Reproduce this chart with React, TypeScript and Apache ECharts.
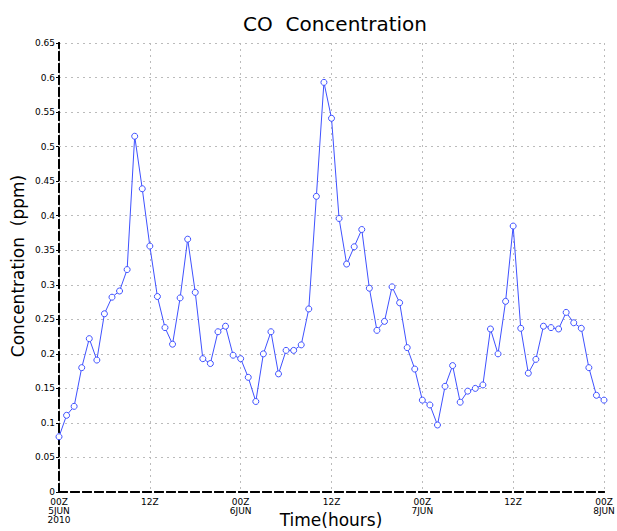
import React, { useEffect, useRef } from "react";
import * as echarts from "echarts";

const hours: number[] = Array.from({ length: 73 }, (_, i) => i);
const coValues: number[] = [
  0.080, 0.111, 0.124, 0.180, 0.222, 0.191, 0.258, 0.282, 0.291, 0.322,
  0.515, 0.439, 0.356, 0.283, 0.238, 0.214, 0.281, 0.366, 0.289, 0.193,
  0.186, 0.232, 0.240, 0.198, 0.193, 0.166, 0.131, 0.200, 0.232, 0.171,
  0.205, 0.205, 0.213, 0.265, 0.428, 0.593, 0.541, 0.396, 0.330, 0.355,
  0.380, 0.295, 0.234, 0.247, 0.297, 0.274, 0.209, 0.178, 0.133, 0.126,
  0.097, 0.153, 0.183, 0.130, 0.146, 0.150, 0.155, 0.236, 0.200, 0.276,
  0.385, 0.237, 0.172, 0.192, 0.240, 0.238, 0.236, 0.260, 0.245, 0.237,
  0.180, 0.140, 0.133,
];
const xTickLabels: Record<number, string> = {
  0: "00Z\n5JUN\n2010",
  12: "12Z",
  24: "00Z\n6JUN",
  36: "12Z",
  48: "00Z\n7JUN",
  60: "12Z",
  72: "00Z\n8JUN",
};

const FONT = "DejaVu Sans";

export default function App() {
  const ref = useRef<HTMLDivElement>(null);
  useEffect(() => {
    if (!ref.current) return;
    const chart = echarts.init(ref.current, undefined, { renderer: "svg" });
    const borderLine = { lineStyle: { color: "#000", width: 2, type: "dashed" as const } };
    chart.setOption({
      animation: false,
      backgroundColor: "#fff",
      textStyle: { fontFamily: FONT },
      title: {
        text: "CO  Concentration",
        left: 330,
        top: 9,
        textAlign: "center",
        textStyle: { fontSize: 20, fontWeight: "normal", color: "#000", fontFamily: FONT },
      },
      graphic: [
        {
          type: "text",
          x: 331,
          y: 520,
          style: {
            text: "Time(hours)",
            fontSize: 17,
            fontFamily: FONT,
            fill: "#000",
            align: "center",
            verticalAlign: "middle",
          },
        },
        {
          type: "text",
          x: 18,
          y: 266,
          rotation: Math.PI / 2,
          style: {
            text: "Concentration  (ppm)",
            fontSize: 17,
            fontFamily: FONT,
            fill: "#000",
            align: "center",
            verticalAlign: "middle",
          },
        },
      ],
      grid: {
        left: 59,
        right: 13,
        top: 43,
        bottom: 39,
        containLabel: false,
        outerBoundsMode: "none",
      },
      xAxis: [
        {
          type: "value",
          min: 0,
          max: 72,
          interval: 12,
          position: "bottom",
          axisLine: { show: true, onZero: false, ...borderLine },
          axisTick: { show: false },
          axisLabel: {
            fontSize: 9,
            lineHeight: 9,
            color: "#000",
            margin: 5,
            formatter: (v: number) => xTickLabels[v] ?? "",
          },
          splitLine: { show: true, lineStyle: { color: "#bbb", type: [2, 4], width: 1 } },
        },
        {
          type: "value",
          min: 0,
          max: 72,
          interval: 12,
          position: "top",
          axisLine: { show: true, ...borderLine },
          axisTick: { show: false },
          axisLabel: { show: false },
          splitLine: { show: false },
        },
      ],
      yAxis: [
        {
          type: "value",
          min: 0,
          max: 0.65,
          interval: 0.05,
          position: "left",
          axisLine: { show: true, ...borderLine },
          axisTick: { show: true, length: 3, lineStyle: { color: "#000" } },
          axisLabel: {
            fontSize: 9,
            color: "#000",
            margin: 4,
            formatter: (v: number) => (v === 0 ? "0" : String(Math.round(v * 100) / 100)),
          },
          splitLine: { show: true, lineStyle: { color: "#bbb", type: [2, 4], width: 1 } },
        },
        {
          type: "value",
          min: 0,
          max: 0.65,
          interval: 0.05,
          position: "right",
          axisLine: { show: true, ...borderLine },
          axisTick: { show: false },
          axisLabel: { show: false },
          splitLine: { show: false },
        },
      ],
      series: [
        {
          type: "line",
          data: hours.map((h, i) => [h, coValues[i]]),
          symbol: "circle",
          symbolSize: 6,
          showSymbol: true,
          lineStyle: { color: "#3f51ff", width: 1 },
          itemStyle: { color: "#fff", borderColor: "#3f51ff", borderWidth: 1 },
          z: 5,
        },
      ],
    });
    return () => chart.dispose();
  }, []);
  return (
    <div
      ref={ref}
      style={{ position: "absolute", left: 0, top: 0, width: 617, height: 531 }}
    />
  );
}
